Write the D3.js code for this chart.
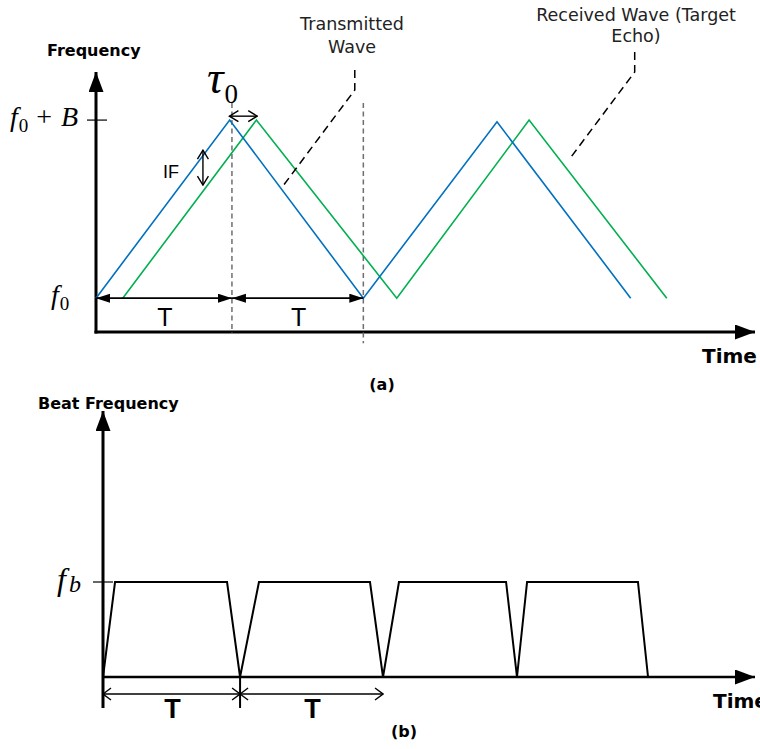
<!DOCTYPE html>
<html>
<head>
<meta charset="utf-8">
<script src="https://cdn.jsdelivr.net/npm/d3@7"></script>
<style>
    body { margin: 0; background: #fff; }
    svg { display: block; }
</style>
</head>
<body>
<div id="vis-svg"></div>
<script>
// panel (a): transmitted and received chirps, time in units of T, freq 0 = f0, 1 = f0 + B
let txTime = [0, 1, 2, 3, 4];
let txFreq = [0, 1, 0, 0.99, 0];
let rxTime = [0.2, 1.2, 2.25, 3.24, 4.27];
let rxFreq = [0, 1, 0, 1, 0];
let periodMarks = [0, 1.017, 2];
let tauSpan = [0.998, 1.206];
let ifTime = 0.8;
let ifSpan = [0.831, 0.635];
let txLeader = [[1.936, 1.281], [1.936, 1.169], [1.398, 0.629]];
let rxLeader = [[4.03, 1.382], [4.03, 1.270], [3.536, 0.775]];

// panel (b): beat frequency, freq 0 = 0, 1 = fb
let beatTime = [0, 0.086, 0.886, 0.979, 1.114, 1.907, 2.0, 2.114, 2.879, 2.957, 3.029, 3.821, 3.893];
let beatFreq = [0, 1, 1, 0, 1, 1, 0, 1, 1, 0, 1, 1, 0];
let beatPeriodMarks = [0, 0.979, 2.0];

const width = 760, height = 749;
const sans = "'DejaVu Sans', Verdana, sans-serif";
const serif = "'Liberation Serif', 'Times New Roman', serif";
const arial = "'Liberation Sans', Arial, sans-serif";

const svg = d3.select("#vis-svg").append("svg")
    .attr("width", width)
    .attr("height", height);

const defs = svg.append("defs");

function addMarker(id, w, h, open, sw) {
    let m = defs.append("marker")
        .attr("id", id)
        .attr("viewBox", (open ? -1 : 0) + " " + (open ? -1 : 0) + " " + (w + 2) + " " + (h + 2))
        .attr("refX", w)
        .attr("refY", h / 2)
        .attr("markerWidth", w + 2)
        .attr("markerHeight", h + 2)
        .attr("markerUnits", "userSpaceOnUse")
        .attr("orient", "auto-start-reverse");
    if (open) {
        m.append("path")
            .attr("d", "M0,0L" + w + "," + (h / 2) + "L0," + h)
            .attr("fill", "none")
            .attr("stroke", "#000")
            .attr("stroke-width", sw);
    } else {
        m.append("path")
            .attr("d", "M0,0L" + w + "," + (h / 2) + "L0," + h + "Z")
            .attr("fill", "#000");
    }
}
addMarker("axisHead", 20, 15, false);
addMarker("tHead", 14, 9, false);
addMarker("chev", 9, 11, true, 1.4);
addMarker("chevB", 8, 12, true, 1.4);

// ---------- panel (a) ----------
let xA = d3.scaleLinear().domain([0, 4.93]).range([96, 755]);
let yA = d3.scaleLinear().domain([-0.19, 1.27]).range([332, 72]);

let gA = svg.append("g");

// axes
gA.append("line")
    .attr("x1", xA(0)).attr("y1", yA.range()[0] + 1.5)
    .attr("x2", xA(0)).attr("y2", yA.range()[1])
    .attr("stroke", "#000").attr("stroke-width", 3)
    .attr("marker-end", "url(#axisHead)");
gA.append("line")
    .attr("x1", xA(0) - 1.5).attr("y1", yA.range()[0])
    .attr("x2", xA.range()[1]).attr("y2", yA.range()[0])
    .attr("stroke", "#000").attr("stroke-width", 3)
    .attr("marker-end", "url(#axisHead)");

// f0 + B tick
gA.append("line")
    .attr("x1", xA(0) - 9).attr("x2", xA(0) + 11)
    .attr("y1", yA(1)).attr("y2", yA(1))
    .attr("stroke", "#000").attr("stroke-width", 1.2);

// dashed period guides
let guideBottom = [-0.197, -0.253];
gA.selectAll(".guide")
    .data(periodMarks.slice(1))
    .enter()
    .append("line")
    .attr("class", "guide")
    .attr("x1", d => xA(d)).attr("x2", d => xA(d))
    .attr("y1", yA(1.096))
    .attr("y2", (d, i) => yA(guideBottom[i]))
    .attr("stroke", "#6e6e6e").attr("stroke-width", 1.5)
    .attr("stroke-dasharray", "5,3.5");

let lineA = d3.line()
    .x(d => xA(d[0]))
    .y(d => yA(d[1]));

let waves = [
    {name: "rx", pts: d3.zip(rxTime, rxFreq), color: "#00b050"},
    {name: "tx", pts: d3.zip(txTime, txFreq), color: "#0070c0"}
];
gA.selectAll(".wave")
    .data(waves)
    .enter()
    .append("path")
    .attr("class", "wave")
    .attr("id", d => d.name)
    .attr("fill", "none")
    .attr("stroke", d => d.color)
    .attr("stroke-width", 1.6)
    .attr("stroke-linejoin", "miter")
    .attr("d", d => lineA(d.pts));

// T arrows
let spansA = d3.pairs(periodMarks);
gA.selectAll(".tArrow")
    .data(spansA)
    .enter()
    .append("line")
    .attr("class", "tArrow")
    .attr("x1", d => xA(d[0])).attr("x2", d => xA(d[1]))
    .attr("y1", yA(0)).attr("y2", yA(0))
    .attr("stroke", "#000").attr("stroke-width", 1.6)
    .attr("marker-start", "url(#tHead)")
    .attr("marker-end", "url(#tHead)");
gA.selectAll(".tLabel")
    .data(spansA)
    .enter()
    .append("text")
    .attr("class", "tLabel")
    .attr("x", d => (xA(d[0]) + xA(d[1])) / 2 + 1)
    .attr("y", yA(0) + 28)
    .attr("text-anchor", "middle")
    .style("font-family", arial)
    .style("font-size", "25px")
    .text("T");

// tau arrow and label
gA.append("line")
    .attr("x1", xA(tauSpan[0])).attr("x2", xA(tauSpan[1]))
    .attr("y1", yA(1.022)).attr("y2", yA(1.022))
    .attr("stroke", "#000").attr("stroke-width", 1.4)
    .attr("marker-start", "url(#chev)")
    .attr("marker-end", "url(#chev)");
let tau = gA.append("text")
    .attr("x", 207).attr("y", 93)
    .style("font-family", serif);
tau.append("tspan")
    .style("font-style", "italic")
    .style("font-size", "46px")
    .text("τ");
tau.append("tspan")
    .attr("dy", 10)
    .attr("dx", 1)
    .style("font-size", "27px")
    .text("0");

// IF arrow
gA.append("line")
    .attr("x1", xA(ifTime)).attr("x2", xA(ifTime))
    .attr("y1", yA(ifSpan[0])).attr("y2", yA(ifSpan[1]))
    .attr("stroke", "#000").attr("stroke-width", 1.4)
    .attr("marker-start", "url(#chev)")
    .attr("marker-end", "url(#chev)");
gA.append("text")
    .attr("x", xA(ifTime) - 40).attr("y", 178)
    .style("font-family", arial)
    .style("font-size", "18px")
    .text("IF");

// leader lines
gA.selectAll(".leader")
    .data([txLeader, rxLeader])
    .enter()
    .append("path")
    .attr("class", "leader")
    .attr("fill", "none")
    .attr("stroke", "#000").attr("stroke-width", 1.5)
    .attr("stroke-dasharray", "8,5")
    .attr("d", d => lineA(d));

function multiLine(g, x, y, lines, lh) {
    let t = g.append("text")
        .attr("x", x).attr("y", y)
        .attr("text-anchor", "middle")
        .style("font-family", sans)
        .style("font-size", "17.5px")
        .attr("fill", "#222");
    lines.forEach((s, i) => {
        t.append("tspan").attr("x", x).attr("dy", i === 0 ? 0 : lh).text(s);
    });
}
multiLine(gA, 352, 30, ["Transmitted", "Wave"], 22.5);
multiLine(gA, 636, 21, ["Received Wave (Target", "Echo)"], 20.5);

// axis labels
gA.append("text")
    .attr("x", 47).attr("y", 56)
    .style("font-family", sans).style("font-weight", "bold").style("font-size", "16px")
    .text("Frequency");
gA.append("text")
    .attr("x", 702).attr("y", 363)
    .style("font-family", sans).style("font-weight", "bold").style("font-size", "20px")
    .text("Time");
gA.append("text")
    .attr("x", 382).attr("y", 390)
    .attr("text-anchor", "middle")
    .style("font-family", sans).style("font-weight", "bold").style("font-size", "16px")
    .text("(a)");

// f0 + B and f0 labels
let fB = gA.append("text")
    .attr("x", 10).attr("y", yA(1) + 6)
    .style("font-family", serif).style("font-size", "28px");
fB.append("tspan").style("font-style", "italic").text("f");
fB.append("tspan").attr("dx", 1).attr("dy", 6).style("font-size", "19px").text("0");
fB.append("tspan").attr("dx", 8).attr("dy", -6).text("+");
fB.append("tspan").attr("dx", 9).style("font-style", "italic").text("B");

let f0 = gA.append("text")
    .attr("x", 51).attr("y", yA(0) + 6)
    .style("font-family", serif).style("font-size", "28px");
f0.append("tspan").style("font-style", "italic").text("f");
f0.append("tspan").attr("dx", 1).attr("dy", 6).style("font-size", "19px").text("0");

// ---------- panel (b) ----------
let xB = d3.scaleLinear().domain([0, 4.657]).range([103, 755]);
let yB = d3.scaleLinear().domain([0, 2.8]).range([677, 411]);

let gB = svg.append("g");

gB.append("line")
    .attr("x1", xB(0)).attr("y1", yB(-0.326))
    .attr("x2", xB(0)).attr("y2", yB.range()[1])
    .attr("stroke", "#000").attr("stroke-width", 3)
    .attr("marker-end", "url(#axisHead)");
gB.append("line")
    .attr("x1", xB(0)).attr("y1", yB(0))
    .attr("x2", xB.range()[1]).attr("y2", yB(0))
    .attr("stroke", "#000").attr("stroke-width", 2.5)
    .attr("marker-end", "url(#axisHead)");

// fb tick
gB.append("line")
    .attr("x1", xB(0) - 10).attr("x2", xB(0) + 10)
    .attr("y1", yB(1)).attr("y2", yB(1))
    .attr("stroke", "#000").attr("stroke-width", 1.2);

let lineB = d3.line()
    .x(d => xB(d[0]))
    .y(d => yB(d[1]));

gB.append("path")
    .attr("fill", "none")
    .attr("stroke", "#000")
    .attr("stroke-width", 2)
    .attr("stroke-linejoin", "miter")
    .attr("d", lineB(d3.zip(beatTime, beatFreq)));

// period tick at end of first T
gB.append("line")
    .attr("x1", xB(beatPeriodMarks[1])).attr("x2", xB(beatPeriodMarks[1]))
    .attr("y1", yB(0)).attr("y2", yB(-0.326))
    .attr("stroke", "#000").attr("stroke-width", 2);

let spansB = d3.pairs(beatPeriodMarks);
gB.selectAll(".tArrowB")
    .data(spansB)
    .enter()
    .append("line")
    .attr("class", "tArrowB")
    .attr("x1", d => xB(d[0])).attr("x2", d => xB(d[1]))
    .attr("y1", yB(-0.179)).attr("y2", yB(-0.179))
    .attr("stroke", "#000").attr("stroke-width", 1.4)
    .attr("marker-start", "url(#chevB)")
    .attr("marker-end", "url(#chevB)");
gB.selectAll(".tLabelB")
    .data(spansB)
    .enter()
    .append("text")
    .attr("class", "tLabelB")
    .attr("x", d => (xB(d[0]) + xB(d[1])) / 2 + 1)
    .attr("y", 718)
    .attr("text-anchor", "middle")
    .style("font-family", arial)
    .style("font-weight", "bold")
    .style("font-size", "27px")
    .text("T");

gB.append("text")
    .attr("x", 38).attr("y", 409)
    .style("font-family", sans).style("font-weight", "bold").style("font-size", "16px")
    .text("Beat Frequency");
gB.append("text")
    .attr("x", 713).attr("y", 708)
    .style("font-family", sans).style("font-weight", "bold").style("font-size", "20px")
    .text("Time");
gB.append("text")
    .attr("x", 404).attr("y", 737)
    .attr("text-anchor", "middle")
    .style("font-family", sans).style("font-weight", "bold").style("font-size", "16px")
    .text("(b)");

let fb = gB.append("text")
    .attr("x", 57).attr("y", yB(1) + 8)
    .style("font-family", serif).style("font-size", "32px");
fb.append("tspan").style("font-style", "italic").text("f");
fb.append("tspan").attr("dx", 3).attr("dy", 2).style("font-style", "italic").style("font-size", "24px").text("b");
</script>
</body>
</html>
